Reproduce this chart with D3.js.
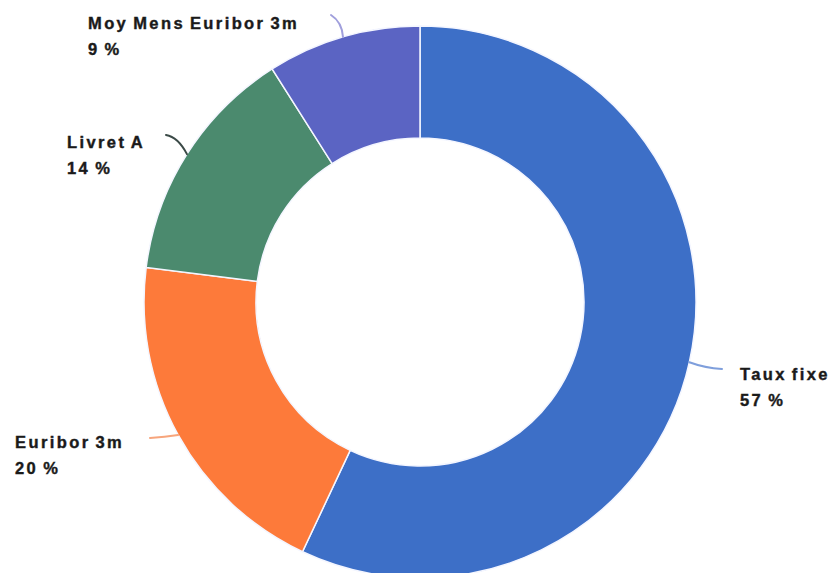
<!DOCTYPE html>
<html><head><meta charset="utf-8">
<script src="https://cdn.jsdelivr.net/npm/d3@7"></script>
<style>
html,body{margin:0;padding:0;background:#fff;}
svg{display:block;}
text{font-family:"Liberation Sans",Arial,sans-serif;font-weight:bold;fill:#1a1a1a;}
</style></head>
<body>
<svg id="c" width="831" height="573"></svg>
<script>
// Data
const categories = ["Taux fixe", "Euribor 3m", "Livret A", "Moy Mens Euribor 3m"];
const values = [57, 20, 14, 9];
const percentLabels = ["57 %", "20 %", "14 %", "9 %"];
const colors = ["#3d6fc7", "#fd7a3a", "#4b8a6e", "#5b64c3"];
const leaderColors = ["#7f9fdc", "#f7a57c", "#3b4a47", "#a09fdc"];

// Layout (label placement, not data)
const cx = 420, cy = 302, rOuter = 276, rInner = 164;
const labelLayout = [
  {end: [722, 369], ctrl: [705, 368], tx: 740, ty: 380, anchor: "start"},
  {end: [150, 438], ctrl: [165, 437], tx: 15,  ty: 448, anchor: "start"},
  {end: [166, 135], ctrl: [178, 137], tx: 67,  ty: 148, anchor: "start"},
  {end: [331, 15],  ctrl: [342, 22],  tx: 88,  ty: 29,  anchor: "start"}
];

const svg = d3.select("#c");
const g = svg.append("g").attr("transform", `translate(${cx},${cy})`);

const data = categories.map((c, i) => ({cat: c, value: values[i], pct: percentLabels[i], i}));
const pie = d3.pie().value(d => d.value).sort(null).startAngle(0).endAngle(2 * Math.PI);
const arcs = pie(data);
const arc = d3.arc().innerRadius(rInner).outerRadius(rOuter);

g.selectAll("path.slice").data(arcs).join("path")
  .attr("class", "slice")
  .attr("d", arc)
  .attr("fill", d => colors[d.index])
  .attr("stroke", "#f4f6ff")
  .attr("stroke-width", 1.5);

// Leader lines
arcs.forEach(a => {
  const mid = (a.startAngle + a.endAngle) / 2;
  const sx = cx + Math.sin(mid) * rOuter;
  const sy = cy - Math.cos(mid) * rOuter;
  const L = labelLayout[a.index];
  const p = d3.path();
  p.moveTo(sx, sy);
  p.quadraticCurveTo(L.ctrl[0], L.ctrl[1], L.end[0], L.end[1]);
  svg.append("path").attr("d", p.toString())
    .attr("fill", "none")
    .attr("stroke", leaderColors[a.index])
    .attr("stroke-width", 2)
    .attr("stroke-linecap", "round");
});

// Labels
arcs.forEach(a => {
  const L = labelLayout[a.index];
  const t = svg.append("text")
    .attr("x", L.tx).attr("y", L.ty)
    .attr("text-anchor", L.anchor)
    .style("font-size", "16.5px")
    .style("letter-spacing", "2.4px")
    .style("word-spacing", "-2px")
    .style("stroke", "#1a1a1a")
    .style("stroke-width", "0.4px");
  t.append("tspan").attr("x", L.tx).attr("y", L.ty).text(a.data.cat);
  t.append("tspan").attr("x", L.tx).attr("y", L.ty + 26).text(a.data.pct);
});
</script>
</body></html>
